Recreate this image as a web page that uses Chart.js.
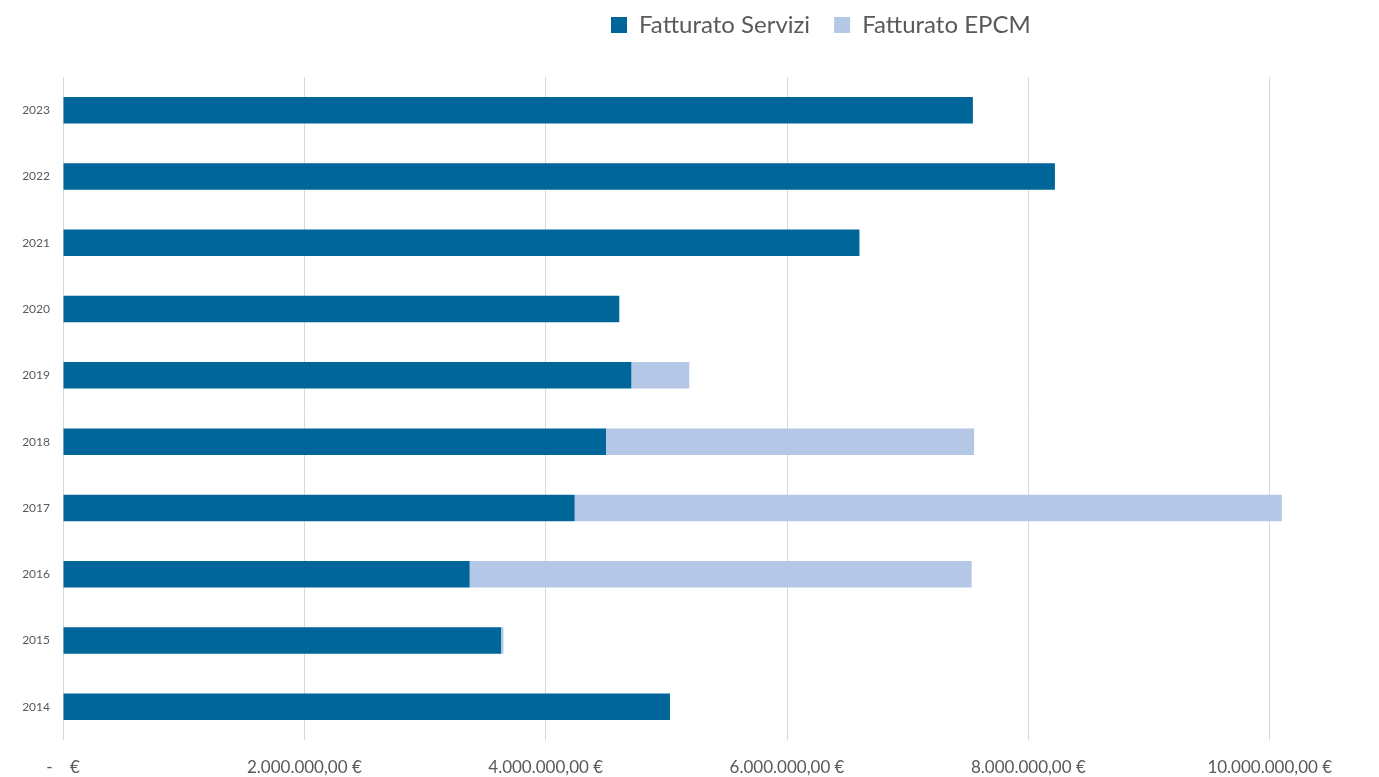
<!DOCTYPE html>
<html>
<head>
<meta charset="utf-8">
<script src="https://cdn.jsdelivr.net/npm/chart.js@4"></script>
<style>
  html, body { margin: 0; padding: 0; background: #ffffff; }
  #wrap { width: 1379px; height: 777px; }
</style>
</head>
<body>
<div id="wrap"><canvas id="chart"></canvas></div>
<script>
'use strict';

// data, oldest year first
let years = ['2014', '2015', '2016', '2017', '2018', '2019', '2020', '2021', '2022', '2023'];
let fatturatoServizi = [5030000, 3630000, 3370000, 4240000, 4500000, 4710000, 4610000, 6600000, 8220000, 7540000];
let fatturatoEPCM = [0, 20000, 4160000, 5860000, 3050000, 480000, 0, 0, 0, 0];
let seriesNames = ['Fatturato Servizi', 'Fatturato EPCM'];
let xTicks = [0, 2000000, 4000000, 6000000, 8000000, 10000000];

let textColor = '#595959';
let gridColor = '#d9d9d9';
let fontFamily = 'Lato, "Open Sans", sans-serif';

function formatEuro(value) {
  if (value === 0) {
    return '-\u00a0\u00a0\u00a0\u00a0\u20ac';
  }
  let whole = Math.round(value).toString();
  let withDots = whole.replace(/\B(?=(\d{3})+(?!\d))/g, '.');
  return withDots + ',00 \u20ac';
}

// the legend in the reference sits right of centre, so move it after layout
let legendShift = {
  id: 'legendShift',
  afterLayout(chart) {
    let legend = chart.legend;
    let w = legend.right - legend.left;
    legend.left = 587;
    legend.right = 587 + w + 400;
    legend.top = -11;
  },
};

let chartConfig = {
  type: 'bar',
  data: {
    labels: years,
    datasets: [
      {
        label: seriesNames[0],
        data: fatturatoServizi,
        backgroundColor: '#00669a',
        borderWidth: 0,
        categoryPercentage: 1,
        barPercentage: 0.4,
      },
      {
        label: seriesNames[1],
        data: fatturatoEPCM,
        backgroundColor: '#b4c7e7',
        borderWidth: 0,
        categoryPercentage: 1,
        barPercentage: 0.4,
      },
    ],
  },
  options: {
    indexAxis: 'y',
    responsive: true,
    maintainAspectRatio: false,
    animation: false,
    layout: {
      padding: { left: 0, right: 61, top: 0, bottom: 0 },
    },
    plugins: {
      legend: {
        position: 'top',
        align: 'start',
        labels: {
          color: textColor,
          font: { family: fontFamily, size: 24 },
          boxWidth: 16,
          boxHeight: 16,
          padding: 24,
        },
      },
      tooltip: { enabled: false },
    },
    scales: {
      x: {
        stacked: true,
        min: 0,
        max: 10400000,
        afterBuildTicks(scale) {
          scale.ticks = xTicks.map(function (v) { return { value: v }; });
        },
        afterFit(scale) {
          scale.height = 37;
        },
        ticks: {
          color: textColor,
          font: { family: fontFamily, size: 17 },
          padding: 17,
          maxRotation: 0,
          autoSkip: false,
          callback: function (value) {
            return formatEuro(value);
          },
        },
        grid: {
          color: gridColor,
          lineWidth: 1,
          drawTicks: false,
        },
        border: { display: false },
      },
      y: {
        stacked: true,
        reverse: true,
        afterFit(scale) {
          scale.width = 63;
        },
        ticks: {
          color: textColor,
          font: { family: fontFamily, size: 12 },
          padding: 5,
        },
        grid: { display: false },
        border: { display: false },
      },
    },
  },
  plugins: [legendShift],
};

// keep the legend block at the same height as the gap above the plot
let canvas = document.getElementById('chart');
let chart = new Chart(canvas, chartConfig);
let oldFit = chart.legend.fit;
chart.legend.fit = function () {
  oldFit.call(this);
  this.height = 77;
};
chart.update();
</script>
</body>
</html>
